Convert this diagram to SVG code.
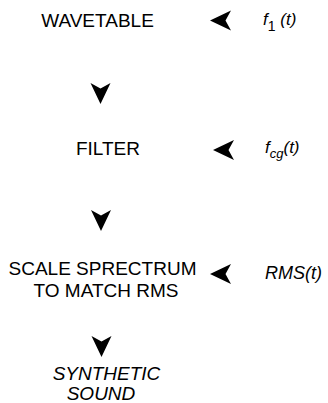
<svg xmlns="http://www.w3.org/2000/svg" width="328" height="403" viewBox="0 0 328 403">
  <style>
    .lbl { font-family: "Liberation Sans", Arial, sans-serif; font-size: 19px; fill: #000; text-anchor: middle; }
    .it { font-family: "Liberation Sans", Arial, sans-serif; font-style: italic; fill: #000; }
    .head { fill: #000; }
  </style>
  <defs>
    <path id="ah" class="head" d="M0,0 L-21,-10 L-15.5,0 L-21,10 Z"/>
  </defs>
  <rect width="328" height="403" fill="#fff"/>
  <g id="wavetable"><text class="lbl" x="97.5" y="26.5">WAVETABLE</text></g>
  <g id="filter"><text class="lbl" x="108" y="155">FILTER</text></g>
  <g id="scale">
    <text class="lbl" x="102.5" y="275">SCALE SPRECTRUM</text>
    <text class="lbl" x="106" y="297">TO MATCH RMS</text>
  </g>
  <g id="synthetic">
    <text class="lbl" font-style="italic" font-size="17.5" x="106.5" y="379.5">SYNTHETIC</text>
    <text class="lbl" font-style="italic" font-size="17.5" x="101" y="399.5">SOUND</text>
  </g>
  <g id="f1">
    <text class="it" font-size="17" x="263" y="24.5">f<tspan font-size="14" font-style="normal" dy="6">1</tspan><tspan dy="-6"> (t)</tspan></text>
  </g>
  <g id="fcg">
    <text class="it" font-size="17" x="265" y="153">f<tspan font-size="13" dy="5">cg</tspan><tspan dy="-5">(t)</tspan></text>
  </g>
  <g id="rms">
    <text class="it" font-size="18" x="265" y="279">RMS(t)</text>
  </g>
  <g id="connectors">
    <use href="#ah" transform="translate(100.5,104) rotate(90)"/>
    <use href="#ah" transform="translate(101,231) rotate(90)"/>
    <use href="#ah" transform="translate(101.5,357) rotate(90)"/>
    <use href="#ah" transform="translate(210,20.5) rotate(180)"/>
    <use href="#ah" transform="translate(213,150) rotate(180)"/>
    <use href="#ah" transform="translate(210,274) rotate(180)"/>
  </g>
</svg>
